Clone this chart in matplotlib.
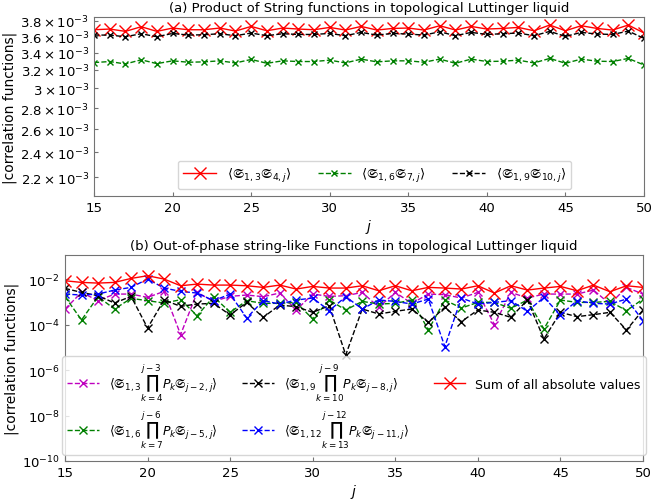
import numpy as np
import matplotlib
matplotlib.use("Agg")
import matplotlib.pyplot as plt
from matplotlib.ticker import FixedLocator, FuncFormatter, NullLocator

plt.rcParams["font.size"] = 9
plt.rcParams["mathtext.fontset"] = "dejavusans"

j = np.arange(15, 51)

# (a) product of string functions
s13_s4j = [3.682, 3.691, 3.661, 3.721, 3.661, 3.704, 3.682, 3.682, 3.704, 3.665,
           3.725, 3.669, 3.704, 3.691, 3.682, 3.712, 3.678, 3.725, 3.678, 3.699,
           3.704, 3.678, 3.734, 3.678, 3.725, 3.691, 3.699, 3.712, 3.669, 3.743,
           3.669, 3.734, 3.699, 3.678, 3.743, 3.640]
s16_s7j = [3.283, 3.295, 3.267, 3.315, 3.271, 3.303, 3.287, 3.291, 3.303, 3.279,
           3.319, 3.275, 3.303, 3.295, 3.295, 3.311, 3.279, 3.323, 3.291, 3.303,
           3.303, 3.287, 3.323, 3.275, 3.323, 3.295, 3.299, 3.311, 3.279, 3.331,
           3.275, 3.323, 3.299, 3.295, 3.331, 3.255]
s19_s10j = [3.614, 3.614, 3.593, 3.631, 3.593, 3.635, 3.614, 3.618, 3.631, 3.606,
            3.640, 3.606, 3.631, 3.622, 3.622, 3.635, 3.606, 3.648, 3.614, 3.635,
            3.627, 3.614, 3.656, 3.606, 3.648, 3.622, 3.631, 3.640, 3.606, 3.661,
            3.597, 3.648, 3.627, 3.622, 3.665, 3.572]
top_ticks = [2.2, 2.4, 2.6, 2.8, 3.0, 3.2, 3.4, 3.6, 3.8]

# (b) out-of-phase string-like functions
magenta = [4.98e-4, 2.69e-3, 1.16e-3, 2.27e-3, 2.27e-3, 1.62e-3, 2.98e-3, 3.71e-5, 2.69e-3, 1.08e-3,
           1.80e-3, 2.06e-3, 1.74e-3, 2.52e-3, 4.50e-4, 2.27e-3, 1.80e-3, 1.92e-3, 2.69e-3, 5.90e-4,
           2.69e-3, 8.85e-4, 2.27e-3, 2.13e-3, 1.52e-3, 2.69e-3, 1.02e-4, 2.69e-3, 1.52e-3, 2.27e-3,
           2.27e-3, 2.27e-3, 3.41e-3, 8.26e-4, 4.47e-3, 2.27e-3]
green = [1.74e-3, 1.64e-4, 1.74e-3, 4.98e-4, 1.47e-3, 1.16e-3, 9.14e-4, 1.28e-3, 2.53e-4, 1.74e-3,
         3.56e-4, 1.16e-3, 8.85e-4, 8.85e-4, 9.77e-4, 1.81e-4, 1.24e-3, 4.50e-4, 1.08e-3, 8.26e-4,
         8.85e-4, 1.24e-3, 5.95e-5, 1.24e-3, 5.51e-4, 9.77e-4, 9.77e-4, 5.33e-4, 1.24e-3, 6.58e-5,
         1.24e-3, 9.77e-4, 9.77e-4, 1.08e-3, 4.21e-4, 1.37e-3]
black = [4.04e-3, 2.69e-3, 1.92e-3, 9.14e-4, 1.80e-3, 7.28e-5, 1.24e-3, 6.53e-4, 8.26e-4, 8.85e-4,
         2.72e-4, 9.77e-4, 2.14e-4, 7.46e-4, 6.31e-4, 3.56e-4, 6.98e-4, 4.73e-6, 4.98e-4, 3.01e-4,
         3.94e-4, 4.98e-4, 1.29e-4, 5.90e-4, 1.38e-4, 4.50e-4, 3.56e-4, 2.14e-4, 1.24e-3, 2.39e-5,
         3.56e-4, 2.29e-4, 2.81e-4, 3.56e-4, 5.95e-5, 4.50e-4]
blue = [2.27e-3, 2.06e-3, 2.27e-3, 3.41e-3, 4.47e-3, 1.04e-2, 4.18e-3, 2.98e-3, 2.52e-3, 1.16e-3,
        2.27e-3, 2.00e-4, 1.16e-3, 8.26e-4, 1.24e-3, 1.52e-3, 4.21e-4, 1.74e-3, 4.98e-4, 1.24e-3,
        1.08e-3, 8.26e-4, 1.37e-3, 1.10e-5, 1.52e-3, 8.26e-4, 9.80e-4, 1.16e-3, 3.94e-4, 1.62e-3,
        2.72e-4, 1.16e-3, 8.85e-4, 8.26e-4, 1.37e-3, 1.53e-4]
abs_sum = [8.77e-3, 7.41e-3, 6.92e-3, 7.41e-3, 1.11e-2, 1.46e-2, 1.04e-2, 5.28e-3, 6.25e-3, 5.65e-3,
           5.65e-3, 5.28e-3, 4.47e-3, 5.65e-3, 3.78e-3, 4.94e-3, 4.18e-3, 4.18e-3, 5.28e-3, 3.18e-3,
           5.28e-3, 3.18e-3, 4.47e-3, 4.18e-3, 3.78e-3, 5.28e-3, 2.52e-3, 5.28e-3, 3.41e-3, 4.18e-3,
           4.94e-3, 3.18e-3, 5.65e-3, 2.88e-3, 5.28e-3, 4.47e-3]


def style_axes(ax):
    for sp in ax.spines.values():
        sp.set_color("0.45")
    ax.tick_params(direction="in", length=3, color="0.45", which="both", labelsize=9.5)


fig = plt.figure(figsize=(6.52, 5.02), dpi=100)
ax1 = fig.add_axes([0.1442, 0.6076, 0.8436, 0.3566])
ax2 = fig.add_axes([0.0997, 0.0797, 0.8865, 0.4104])

# panel (a)
ax1.plot(j, np.array(s13_s4j) * 1e-3, "-x", color="red", lw=1, ms=9,
         label=r"$\langle\mathfrak{S}_{1,3}\mathfrak{S}_{4,j}\rangle$")
ax1.plot(j, np.array(s16_s7j) * 1e-3, "--x", color="green", lw=1, ms=5,
         label=r"$\langle\mathfrak{S}_{1,6}\mathfrak{S}_{7,j}\rangle$")
ax1.plot(j, np.array(s19_s10j) * 1e-3, "--x", color="black", lw=1, ms=5,
         label=r"$\langle\mathfrak{S}_{1,9}\mathfrak{S}_{10,j}\rangle$")
ax1.set_yscale("log")
ax1.set_ylim(2.06e-3, 3.85e-3)
ax1.set_xlim(15, 50)
ax1.yaxis.set_major_locator(FixedLocator([t * 1e-3 for t in top_ticks]))
ax1.yaxis.set_minor_locator(NullLocator())


def sci(v, pos):
    m = v * 1e3
    if abs(m - round(m)) < 1e-6:
        return r"$%d\times10^{-3}$" % round(m)
    return r"$%.1f\times10^{-3}$" % m


ax1.yaxis.set_major_formatter(FuncFormatter(sci))
ax1.set_title("(a) Product of String functions in topological Luttinger liquid", fontsize=9.5, pad=4)
ax1.set_xlabel(r"$j$", fontsize=10, labelpad=2)
ax1.set_ylabel("|correlation functions|", fontsize=10, labelpad=2)
ax1.legend(ncol=3, loc="lower center", bbox_to_anchor=(0.51, 0.0), fontsize=9.5,
           columnspacing=2.0, handlelength=2.5)
style_axes(ax1)

# panel (b)
ax2.plot(j, magenta, "--x", color="m", lw=1, ms=6,
         label=r"$\langle\mathfrak{S}_{1,3}\prod_{k=4}^{j-3}P_k\mathfrak{S}_{j-2,j}\rangle$")
ax2.plot(j, green, "--x", color="green", lw=1, ms=6,
         label=r"$\langle\mathfrak{S}_{1,6}\prod_{k=7}^{j-6}P_k\mathfrak{S}_{j-5,j}\rangle$")
ax2.plot(j, black, "--x", color="black", lw=1, ms=6,
         label=r"$\langle\mathfrak{S}_{1,9}\prod_{k=10}^{j-9}P_k\mathfrak{S}_{j-8,j}\rangle$")
ax2.plot(j, blue, "--x", color="blue", lw=1, ms=6,
         label=r"$\langle\mathfrak{S}_{1,12}\prod_{k=13}^{j-12}P_k\mathfrak{S}_{j-11,j}\rangle$")
ax2.plot(j, abs_sum, "-x", color="red", lw=1, ms=9, label="Sum of all absolute values")
ax2.set_yscale("log")
ax2.set_ylim(1e-10, 0.12)
ax2.set_xlim(15, 50)
ax2.yaxis.set_major_locator(FixedLocator([1e-10, 1e-8, 1e-6, 1e-4, 1e-2]))
ax2.yaxis.set_minor_locator(NullLocator())
ax2.set_title("(b) Out-of-phase string-like Functions in topological Luttinger liquid", fontsize=9.5, pad=4)
ax2.set_xlabel(r"$j$", fontsize=10, labelpad=2)
ax2.set_ylabel("|correlation functions|", fontsize=10, labelpad=2)
ax2.legend(ncol=3, loc="lower center", bbox_to_anchor=(0.5, 0.0), fontsize=9,
           columnspacing=2.0, handlelength=2.5, labelspacing=0.4)
style_axes(ax2)

fig.savefig("out.png", dpi=100)
